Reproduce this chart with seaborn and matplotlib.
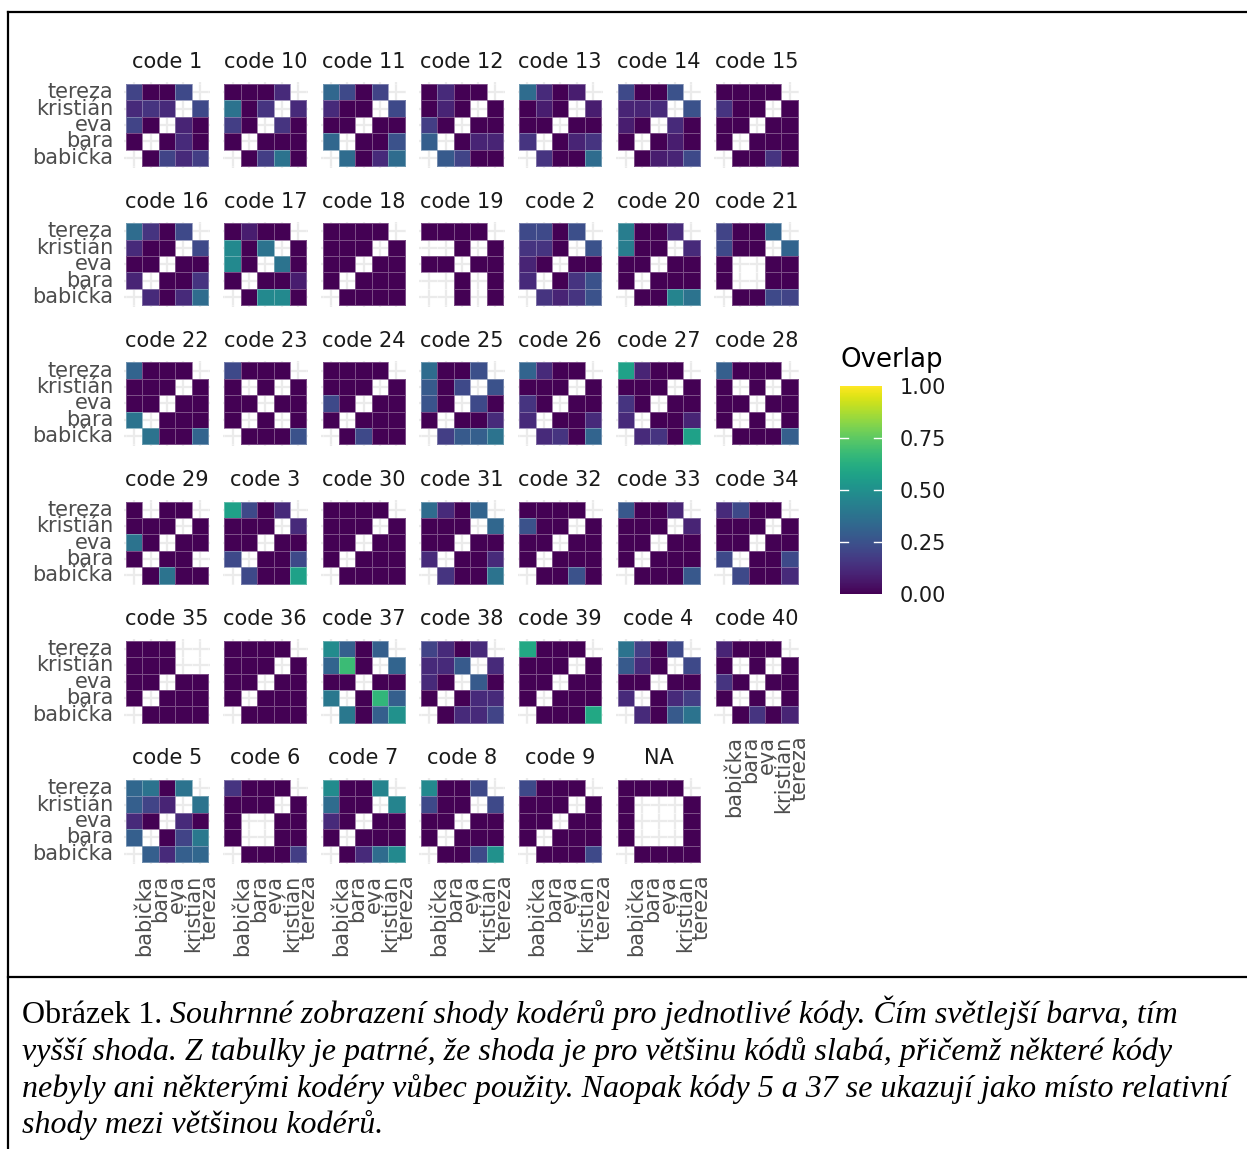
import numpy as np
import pandas as pd
import seaborn as sns
import matplotlib.pyplot as plt
from matplotlib import cm, colors
from matplotlib.lines import Line2D

# coders on the x axis (left -> right); rows are drawn top -> bottom in reverse
coders = ["babička", "bara", "eva", "kristián", "tereza"]
row_names = coders[::-1]

N = None
# rows: tereza, kristián, eva, bara, babička ; cols: babička, bara, eva, kristián, tereza
c1 = [[.20, 0, 0, .22, N], [.12, .15, .12, N, .22], [.20, 0, N, .10, 0], [0, N, 0, .12, 0], [N, 0, .20, .12, .18]]
c10 = [[0, 0, 0, .12, N], [.38, 0, .15, N, .12], [.18, 0, N, .15, 0], [0, N, 0, 0, 0], [N, 0, .18, .38, 0]]
c11 = [[.33, .22, 0, .20, N], [.12, 0, 0, N, .22], [0, 0, N, 0, 0], [.33, N, 0, 0, .25], [N, .35, 0, .12, .35]]
c12 = [[0, .12, 0, 0, N], [0, .10, 0, N, 0], [.18, 0, N, 0, 0], [.30, N, 0, .10, .10], [N, .28, .20, 0, 0]]
c13 = [[.35, .12, 0, .08, N], [0, .08, 0, N, .08], [0, 0, N, 0, 0], [.15, N, 0, .10, .15], [N, .15, 0, 0, .35]]
c14 = [[.22, 0, 0, .25, N], [.10, .10, .12, N, .25], [.08, 0, N, .12, 0], [0, N, 0, .08, 0], [N, 0, .08, .10, .22]]
c15 = [[0, 0, 0, 0, N], [.15, 0, 0, N, 0], [0, 0, N, 0, 0], [0, N, 0, 0, 0], [N, 0, 0, .15, 0]]
c16 = [[.35, .15, 0, .22, N], [.12, 0, 0, N, .22], [0, 0, N, 0, 0], [.10, N, 0, 0, .15], [N, .12, 0, .12, .35]]
c17 = [[0, .08, 0, 0, N], [.47, 0, .38, N, 0], [.47, 0, N, .38, 0], [0, N, 0, 0, .08], [N, 0, .47, .47, 0]]
c18 = [[0, 0, 0, 0, N], [0, 0, 0, N, 0], [0, 0, N, 0, 0], [0, N, 0, 0, 0], [N, 0, 0, 0, 0]]
c19 = [[0, 0, 0, 0, N], [N, N, 0, N, 0], [0, 0, N, 0, 0], [N, N, 0, N, 0], [N, N, 0, N, 0]]
c2 = [[.22, .22, 0, .24, N], [.15, .15, 0, N, .25], [.10, 0, N, 0, 0], [.12, N, 0, .15, .25], [N, .15, .10, .15, .25]]
c20 = [[.42, 0, 0, .12, N], [.42, 0, 0, N, .12], [0, 0, N, 0, 0], [0, N, 0, 0, 0], [N, 0, 0, .45, .38]]
c21 = [[.20, 0, 0, .32, N], [.22, 0, 0, N, .32], [0, N, N, 0, 0], [0, N, N, 0, 0], [N, 0, 0, .22, .20]]
c22 = [[.32, 0, 0, 0, N], [0, 0, 0, N, 0], [0, 0, N, 0, 0], [.38, N, 0, 0, 0], [N, .38, 0, 0, .32]]
c23 = [[.22, 0, 0, 0, N], [0, N, 0, N, 0], [0, 0, N, 0, 0], [0, N, 0, N, 0], [N, 0, 0, 0, .25]]
c24 = [[0, 0, 0, 0, N], [0, 0, 0, N, 0], [.22, 0, N, 0, 0], [0, N, 0, 0, 0], [N, 0, .22, 0, 0]]
c25 = [[.35, 0, 0, .24, N], [.28, 0, .22, N, .25], [.26, 0, N, .22, 0], [0, N, 0, 0, .12], [N, .18, .28, .30, .38]]
c26 = [[.32, .12, 0, 0, N], [0, 0, 0, N, 0], [.15, 0, N, 0, 0], [.12, N, 0, 0, .12], [N, .12, .15, 0, .32]]
c27 = [[.57, .10, 0, 0, N], [0, 0, 0, N, 0], [.15, 0, N, 0, 0], [.12, N, 0, 0, .10], [N, .12, .15, 0, .57]]
c28 = [[.30, 0, 0, 0, N], [0, N, 0, N, 0], [0, 0, N, 0, 0], [0, N, 0, N, 0], [N, 0, 0, 0, .30]]
c29 = [[0, N, 0, 0, N], [0, 0, 0, N, 0], [.38, 0, N, 0, 0], [0, N, 0, 0, N], [N, 0, .38, 0, 0]]
c3 = [[.57, .22, 0, .12, N], [0, 0, 0, N, .12], [0, 0, N, 0, 0], [.22, N, 0, 0, .22], [N, .22, 0, 0, .57]]
c30 = [[0, 0, 0, 0, N], [0, 0, 0, N, 0], [0, 0, N, 0, 0], [0, N, 0, 0, 0], [N, 0, 0, 0, 0]]
c31 = [[.35, .12, 0, .32, N], [0, 0, 0, N, .33], [0, 0, N, 0, 0], [.12, N, 0, 0, .12], [N, .15, 0, 0, .38]]
c32 = [[0, 0, 0, 0, N], [.25, 0, 0, N, 0], [0, 0, N, 0, 0], [0, N, 0, 0, 0], [N, 0, 0, .25, 0]]
c33 = [[.27, 0, 0, .10, N], [0, 0, 0, N, .10], [0, 0, N, 0, 0], [0, N, 0, 0, 0], [N, 0, 0, 0, .27]]
c34 = [[.12, .22, 0, 0, N], [0, 0, 0, N, 0], [0, 0, N, 0, 0], [.22, N, 0, 0, .22], [N, .22, 0, 0, .12]]
c35 = [[0, 0, 0, N, N], [0, 0, 0, N, N], [0, 0, N, 0, 0], [0, N, 0, 0, 0], [N, 0, 0, 0, 0]]
c36 = [[0, 0, 0, 0, N], [0, 0, 0, N, 0], [0, 0, N, 0, 0], [0, N, 0, 0, 0], [N, 0, 0, 0, 0]]
c37 = [[.48, .30, 0, .30, N], [.32, .68, 0, N, .32], [0, 0, N, 0, 0], [.40, N, 0, .66, .30], [N, .40, 0, .30, .50]]
c38 = [[.20, .12, 0, .12, N], [.12, .12, .28, N, .12], [.12, 0, N, .28, 0], [0, N, 0, .12, .12], [N, 0, .12, .12, .20]]
c39 = [[.60, 0, 0, 0, N], [0, 0, 0, N, 0], [0, 0, N, 0, 0], [0, N, 0, 0, 0], [N, 0, 0, 0, .60]]
c4 = [[.38, .18, 0, .22, N], [.28, .12, 0, N, .22], [0, 0, N, 0, 0], [.12, N, 0, .12, .18], [N, .12, 0, .28, .38]]
c40 = [[.10, 0, 0, 0, N], [0, N, 0, N, 0], [.15, 0, N, 0, 0], [0, N, 0, N, 0], [N, 0, .15, 0, .10]]
c5 = [[.33, .38, 0, .38, N], [.30, .20, .10, N, .38], [.12, 0, N, .12, 0], [.30, N, 0, .20, .40], [N, .30, .12, .30, .33]]
c6 = [[.15, 0, 0, 0, N], [0, 0, 0, N, 0], [0, N, N, 0, 0], [0, N, N, 0, 0], [N, 0, 0, 0, .18]]
c7 = [[.48, 0, 0, .45, N], [.35, 0, 0, N, .45], [.12, 0, N, 0, 0], [0, N, 0, 0, 0], [N, 0, .12, .35, .47]]
c8 = [[.47, 0, 0, .22, N], [.22, 0, 0, N, .22], [0, 0, N, 0, 0], [0, N, 0, 0, 0], [N, 0, 0, .22, .50]]
c9 = [[.22, 0, 0, 0, N], [0, 0, 0, N, 0], [0, 0, N, 0, 0], [0, N, 0, 0, 0], [N, 0, 0, 0, .22]]
cNA = [[0, 0, 0, 0, N], [0, N, N, N, 0], [0, N, N, N, 0], [0, N, N, N, 0], [N, 0, 0, 0, 0]]

panel_titles = ["code 1", "code 10", "code 11", "code 12", "code 13", "code 14", "code 15",
                "code 16", "code 17", "code 18", "code 19", "code 2", "code 20", "code 21",
                "code 22", "code 23", "code 24", "code 25", "code 26", "code 27", "code 28",
                "code 29", "code 3", "code 30", "code 31", "code 32", "code 33", "code 34",
                "code 35", "code 36", "code 37", "code 38", "code 39", "code 4", "code 40",
                "code 5", "code 6", "code 7", "code 8", "code 9", "NA"]
panel_data = [c1, c10, c11, c12, c13, c14, c15, c16, c17, c18, c19, c2, c20, c21,
              c22, c23, c24, c25, c26, c27, c28, c29, c3, c30, c31, c32, c33, c34,
              c35, c36, c37, c38, c39, c4, c40, c5, c6, c7, c8, c9, cNA]

W, H = 1247, 1149
fig = plt.figure(figsize=(W / 100, H / 100), dpi=100)
fig.patch.set_facecolor("white")


def box(x, y, w, h):
    return [x / W, 1 - (y + h) / H, w / W, h / H]


cell = 16.4
tile = 5 * cell
ncol = 7
grey30 = "#4d4d4d"

for i, (title, vals) in enumerate(zip(panel_titles, panel_data)):
    r, c = divmod(i, ncol)
    left = 126 + c * 98.3
    top = 84 + r * 139.2
    ax = fig.add_axes(box(left - 0.1 * cell, top - 0.1 * cell, tile + 0.2 * cell, tile + 0.2 * cell))
    ax.set_facecolor("white")
    df = pd.DataFrame(np.array(vals, dtype=float), index=row_names, columns=coders)
    sns.heatmap(df, ax=ax, cmap="viridis", vmin=0, vmax=1, cbar=False,
                linewidths=0.6, linecolor=(1, 1, 1, 0.3), square=False)
    ax.set_xlim(-0.1, 5.1)
    ax.set_ylim(5.1, -0.1)
    for k in range(5):
        ax.axvline(k + 0.5, color="#ebebeb", lw=1.6, zorder=0.5)
        ax.axhline(k + 0.5, color="#ebebeb", lw=1.6, zorder=0.5)
    for s in ax.spines.values():
        s.set_visible(False)
    ax.tick_params(length=0)
    ax.set_xlabel("")
    ax.set_ylabel("")
    ax.set_title(title, fontsize=15, color="#1a1a1a", pad=10)

    if c == 0:
        ax.set_yticks(np.arange(5) + 0.5)
        ax.set_yticklabels(row_names, fontsize=15, color=grey30, rotation=0, va="center")
        ax.tick_params(axis="y", pad=8)
    else:
        ax.set_yticks([])

    bottom = (r == 5) or (r == 4 and c == 6)
    if bottom:
        ax.set_xticks(np.arange(5) + 0.5)
        ax.set_xticklabels(coders, fontsize=15, color=grey30, rotation=90, ha="left", va="top")
        ax.tick_params(axis="x", pad=8)
    else:
        ax.set_xticks([])

# colour legend
cax = fig.add_axes(box(840, 386, 42, 208))
sm = cm.ScalarMappable(norm=colors.Normalize(0, 1), cmap="viridis")
cb = fig.colorbar(sm, cax=cax, ticks=[0, 0.25, 0.5, 0.75, 1.0])
cb.outline.set_visible(False)
cb.ax.set_yticklabels(["0.00", "0.25", "0.50", "0.75", "1.00"], fontsize=15, color="#1a1a1a")
cb.ax.tick_params(length=0, pad=13)
for v in [0.25, 0.5, 0.75]:
    cax.plot([0, 0.2], [v, v], color="white", lw=1, transform=cax.get_yaxis_transform())
    cax.plot([0.8, 1], [v, v], color="white", lw=1, transform=cax.get_yaxis_transform())
fig.text(840 / W, 1 - 360 / H, "Overlap", fontsize=18.75, color="black", ha="left", va="center")

# frame
for xs, ys in [((8, W), (12, 12)), ((8, 8), (12, H)), ((8, W), (977, 977))]:
    fig.add_artist(Line2D([x / W for x in xs], [1 - y / H for y in ys], color="black", lw=1.6))

# caption
serif = ["Liberation Serif", "DejaVu Serif"]
cap_size = 23
lead = fig.text(22 / W, 1 - 1023 / H, "Obrázek 1. ", fontsize=cap_size, family=serif, va="baseline")
renderer = fig.canvas.get_renderer()
bb = lead.get_window_extent(renderer=renderer)
fig.text(bb.x1 / W, 1 - 1023 / H,
         "Souhrnné zobrazení shody kodérů pro jednotlivé kódy. Čím světlejší barva, tím",
         fontsize=cap_size, family=serif, style="italic", va="baseline")
cap_lines = ["vyšší shoda. Z tabulky je patrné, že shoda je pro většinu kódů slabá, přičemž některé kódy",
             "nebyly ani některými kodéry vůbec použity. Naopak kódy 5 a 37 se ukazují jako místo relativní",
             "shody mezi většinou kodérů."]
for k, line in enumerate(cap_lines):
    fig.text(22 / W, 1 - (1060 + k * 36.7) / H, line, fontsize=cap_size, family=serif,
             style="italic", va="baseline")

fig.savefig("out.png", dpi=100)
